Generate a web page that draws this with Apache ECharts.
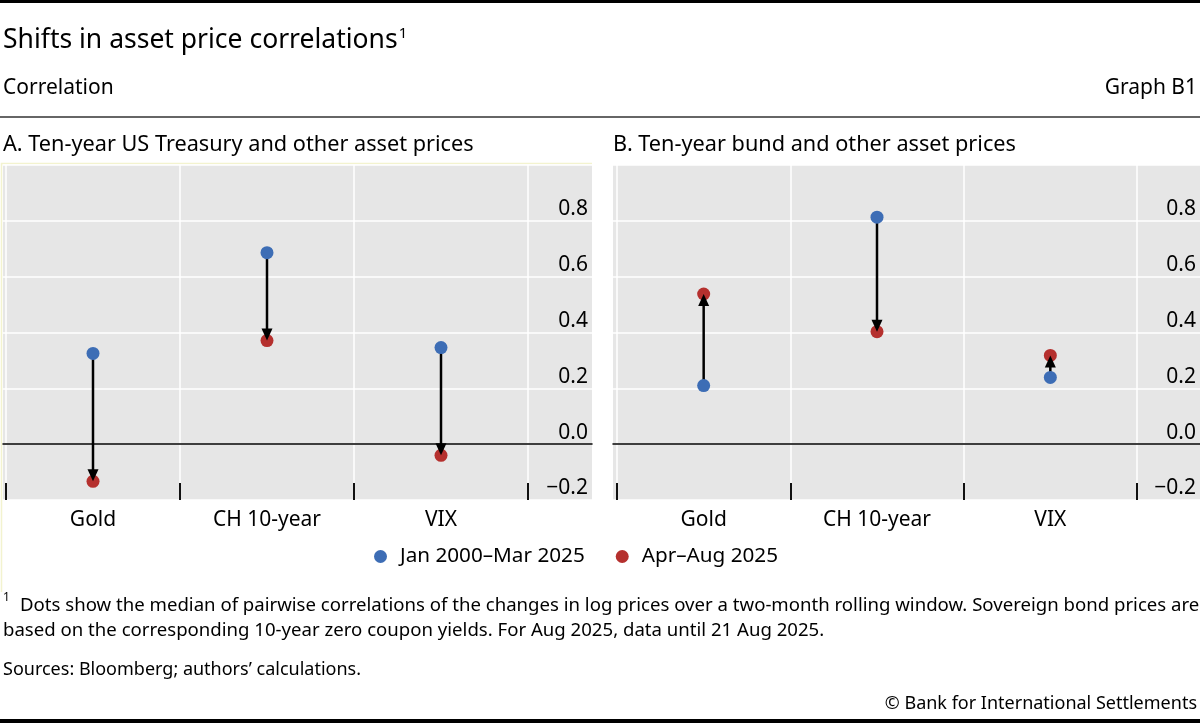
<!DOCTYPE html>
<html>
<head>
<meta charset="utf-8">
<script src="https://cdn.jsdelivr.net/npm/echarts@6/dist/echarts.min.js"></script>
<style>
html,body{margin:0;padding:0;background:#fff;}
#chart{width:1200px;height:723px;}
</style>
</head>
<body>
<div id="chart"></div>
<script>
// ---- data ----
const categories = ['Gold', 'CH 10-year', 'VIX'];
const seriesNames = ['Jan 2000\u2013Mar 2025', 'Apr\u2013Aug 2025'];
// Panel A: Ten-year US Treasury
const panelA_before = [0.325, 0.686, 0.346];
const panelA_after  = [-0.133, 0.371, -0.040];
// Panel B: Ten-year bund
const panelB_before = [0.210, 0.813, 0.239];
const panelB_after  = [0.538, 0.403, 0.318];
const yTicks = [-0.2, 0.0, 0.2, 0.4, 0.6, 0.8];

const FONT = '"Noto Sans", "Open Sans", sans-serif';
const BLUE = '#3d6db5';
const RED = '#b5302e';
const BG = '#e6e6e6';

const chart = echarts.init(document.getElementById('chart'), null, {renderer: 'canvas'});

function bgYAxis(gridIndex) {
  return {
    type: 'value', gridIndex, position: 'right',
    min: -0.2, max: 1.0, interval: 0.2,
    axisLine: {show: false}, axisTick: {show: false},
    splitLine: {show: true, lineStyle: {color: '#ffffff', width: 1.5}},
    axisLabel: {
      inside: true, margin: 4, fontFamily: FONT, fontSize: 21, color: '#000',
      verticalAlign: 'bottom', padding: [0, 0, 1, 0],
      formatter: v => {
        const r = Math.round(v * 10) / 10;
        if (!yTicks.some(t => Math.abs(t - r) < 1e-9)) return '';
        return r.toFixed(1).replace('-', '\u2212');
      }
    }
  };
}
function bgXAxis(gridIndex) {
  return {
    type: 'value', gridIndex, min: 0, max: 1, z: 3,
    axisLine: {show: true, onZero: true, lineStyle: {color: '#000', width: 1.5}},
    axisTick: {show: false}, axisLabel: {show: false}, splitLine: {show: false}
  };
}
function dataXAxis(gridIndex) {
  return {
    type: 'category', gridIndex, data: categories, boundaryGap: true, position: 'bottom',
    axisLine: {show: false, onZero: false},
    axisTick: {show: true, inside: true, length: 17, lineStyle: {color: '#111', width: 2}},
    splitLine: {show: true, lineStyle: {color: '#ffffff', width: 1.5}},
    axisLabel: {margin: 10, fontFamily: FONT, fontSize: 21, color: '#000'}
  };
}
function dataYAxis(gridIndex) {
  return {type: 'value', gridIndex, min: -0.2, max: 1.0, interval: 0.2, show: false, splitLine: {show: false}};
}
function renderArrow(params, api) {
  const x = api.value(0);
  const p1 = api.coord([x, api.value(1)]);
  const p2 = api.coord([x, api.value(2)]);
  const dir = p2[1] > p1[1] ? 1 : -1;
  const h = 12, w = 5.5;
  const baseY = p2[1] - dir * h;
  return {
    type: 'group',
    children: [
      {type: 'line', shape: {x1: p1[0], y1: p1[1], x2: p2[0], y2: baseY + dir * 1},
       style: {stroke: '#000', lineWidth: 2.5}},
      {type: 'polygon', shape: {points: [[p2[0], p2[1]], [p2[0] - w, baseY], [p2[0] + w, baseY]]},
       style: {fill: '#000'}}
    ]
  };
}
function panelSeries(xi, yi, before, after) {
  return [
    {
      name: seriesNames[1], type: 'scatter', xAxisIndex: xi, yAxisIndex: yi, z: 2,
      symbolSize: 13, itemStyle: {color: RED, opacity: 1},
      data: categories.map((c, i) => [c, after[i]])
    },
    {
      type: 'custom', xAxisIndex: xi, yAxisIndex: yi, z: 3, silent: true,
      renderItem: renderArrow,
      encode: {x: 0, y: [1, 2]},
      data: categories.map((c, i) => [i, before[i], after[i]])
    },
    {
      name: seriesNames[0], type: 'scatter', xAxisIndex: xi, yAxisIndex: yi, z: 4,
      symbolSize: 13, itemStyle: {color: BLUE, opacity: 1},
      data: categories.map((c, i) => [c, before[i]])
    }
  ];
}

const TOP = 165, HEIGHT = 335;

const option = {
  animation: false,
  backgroundColor: '#ffffff',
  textStyle: {fontFamily: FONT},
  grid: [
    {left: 3, top: TOP, width: 589, height: HEIGHT, show: true, backgroundColor: BG, borderWidth: 0, containLabel: false},
    {left: 6, top: TOP, width: 522, height: HEIGHT, show: false, containLabel: false},
    {left: 613, top: TOP, width: 587, height: HEIGHT, show: true, backgroundColor: BG, borderWidth: 0, containLabel: false},
    {left: 617, top: TOP, width: 520, height: HEIGHT, show: false, containLabel: false}
  ],
  xAxis: [bgXAxis(0), dataXAxis(1), bgXAxis(2), dataXAxis(3)],
  yAxis: [bgYAxis(0), dataYAxis(1), bgYAxis(2), dataYAxis(3)],
  legend: {
    left: 369, top: 541,
    data: [{name: seriesNames[0], icon: 'circle'}, {name: seriesNames[1], icon: 'circle'}],
    itemWidth: 13, itemHeight: 13, itemGap: 31,
    textStyle: {fontFamily: FONT, fontSize: 20.7, color: '#000', padding: [0, 0, 0, 8]}
  },
  series: [
    ...panelSeries(1, 1, panelA_before, panelA_after),
    ...panelSeries(3, 3, panelB_before, panelB_after)
  ],
  graphic: [
    {type: 'rect', shape: {x: 0, y: 0, width: 1200, height: 3}, style: {fill: '#000'}},
    {type: 'rect', shape: {x: 0, y: 116, width: 1200, height: 2}, style: {fill: '#666'}},
    {type: 'rect', shape: {x: 0, y: 719, width: 1200, height: 4}, style: {fill: '#000'}},
    {type: 'polyline', shape: {points: [[1.5, 592], [1.5, 163.5], [592, 163.5]]}, style: {stroke: '#f3f3cf', lineWidth: 1.5, fill: null}},
    {type: 'text', style: {
      x: 3, y: 40, text: 'Shifts in asset price correlations{s|1}', fill: '#000',
      font: '26.5px ' + FONT, textVerticalAlign: 'middle',
      rich: {s: {fontSize: 15, fontFamily: FONT, verticalAlign: 'top', padding: [0, 0, 10, 1]}}
    }},
    {type: 'text', style: {x: 3, y: 88, text: 'Correlation', fill: '#000', font: '21px ' + FONT, textVerticalAlign: 'middle'}},
    {type: 'text', style: {x: 1197, y: 88, text: 'Graph B1', fill: '#000', font: '21px ' + FONT, textAlign: 'right', textVerticalAlign: 'middle'}},
    {type: 'text', style: {x: 3, y: 145, text: 'A. Ten-year US Treasury and other asset prices', fill: '#000', font: '21.7px ' + FONT, textVerticalAlign: 'middle'}},
    {type: 'text', style: {x: 613, y: 145, text: 'B. Ten-year bund and other asset prices', fill: '#000', font: '21.7px ' + FONT, textVerticalAlign: 'middle'}},
    {type: 'text', style: {x: 3, y: 598, text: '1', fill: '#000', font: '12px ' + FONT, textVerticalAlign: 'middle'}},
    {type: 'text', style: {x: 20, y: 606, text: 'Dots show the median of pairwise correlations of the changes in log prices over a two-month rolling window. Sovereign bond prices are', fill: '#000', font: '18.6px ' + FONT, textVerticalAlign: 'middle'}},
    {type: 'text', style: {x: 3, y: 631, text: 'based on the corresponding 10-year zero coupon yields. For Aug 2025, data until 21 Aug 2025.', fill: '#000', font: '18.6px ' + FONT, textVerticalAlign: 'middle'}},
    {type: 'text', style: {x: 3, y: 670, text: 'Sources: Bloomberg; authors\u2019 calculations.', fill: '#000', font: '18px ' + FONT, textVerticalAlign: 'middle'}},
    {type: 'text', style: {x: 1197, y: 704, text: '\u00a9 Bank for International Settlements', fill: '#000', font: '18px ' + FONT, textAlign: 'right', textVerticalAlign: 'middle'}}
  ]
};
chart.setOption(option);
</script>
</body>
</html>
